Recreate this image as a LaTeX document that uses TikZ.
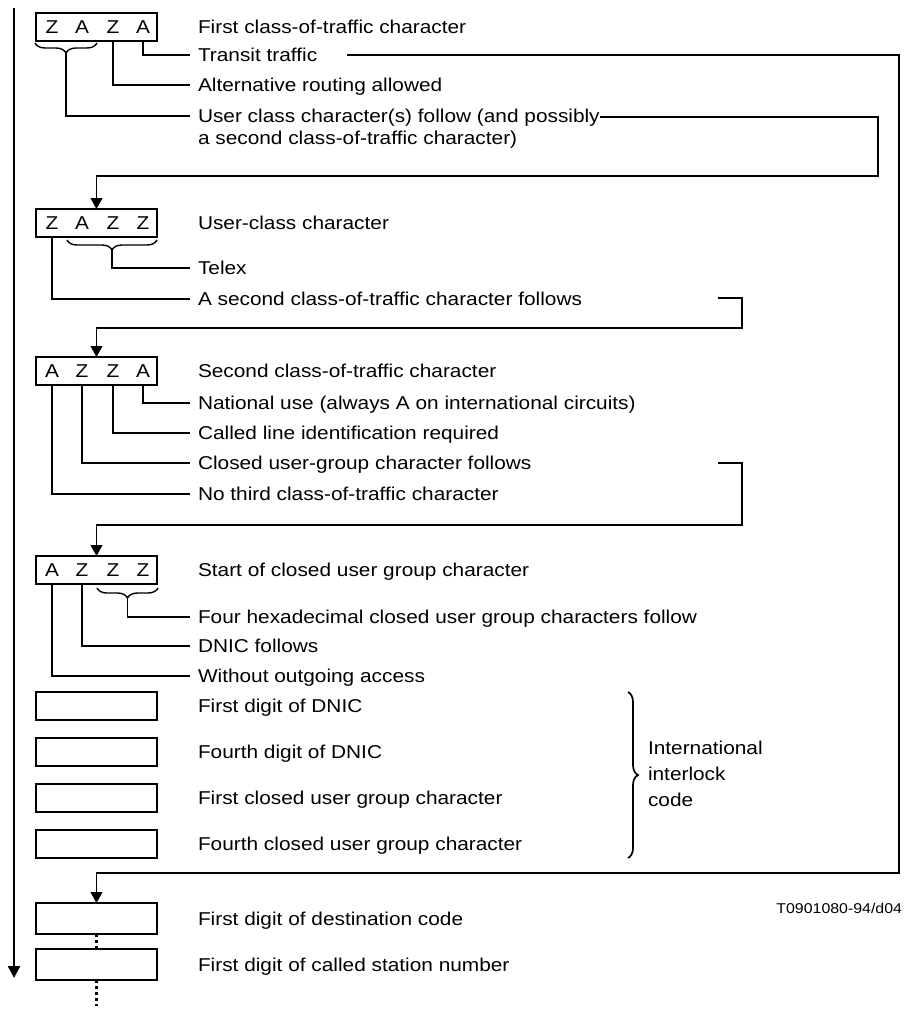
\documentclass[tikz,border=0pt]{standalone}
\usepackage{fontspec}
\setmainfont{Liberation Sans}[FakeStretch=1.12]
\usetikzlibrary{arrows.meta,decorations.pathreplacing}
\begin{document}
\begin{tikzpicture}[x=1pt,y=-1pt,
  every node/.style={font=\fontsize{18.6}{22}\selectfont, inner sep=0pt, outer sep=0pt},
  cbox/.style={draw, line width=1.1pt, minimum width=121pt, minimum height=28pt, anchor=north west},
  tbox/.style={cbox, minimum height=31pt},
  lbl/.style={anchor=west, text height=13.3pt, text depth=0pt},
  ch/.style={anchor=center, text height=13.3pt, text depth=0pt},
  lead/.style={line width=1.1pt},
  flow/.style={line width=1.1pt, -{Triangle[length=11pt,width=12pt]}},
  mainflow/.style={line width=2.4pt, -{Triangle[length=12pt,width=12pt]}},
  br/.style={line width=1.4pt, decorate, decoration={brace, amplitude=10pt}},
  bigbr/.style={line width=1.7pt, decorate, decoration={brace, amplitude=10pt}},
  dots/.style={line width=2.2pt, dash pattern=on 3pt off 3pt}
]
\useasboundingbox (0,0) rectangle (903,1009);

% main time arrow
\coordinate (mtop) at (14,8);
\coordinate (mbot) at (14,978);
\draw[mainflow] (mtop) -- (mbot);

% ---------- Block 1 ----------
\node[cbox] (b1) at (36,13) {};
\node[ch] (b1a) at (52,27) {Z};
\node[ch] (b1b) at (82,27) {A};
\node[ch] (b1c) at (113,27) {Z};
\node[ch] (b1d) at (143,27) {A};
\node[lbl] (t1) at (198,27) {First class-of-traffic character};
\node[lbl] (t1a) at (198,55) {Transit traffic};
\node[lbl] (t1b) at (198,85) {Alternative routing allowed};
\node[lbl] (t1c) at (198,116) {User class character(s) follow (and possibly};
\node[lbl] (t1d) at (198,138) {a second class-of-traffic character)};
\draw[br] (97,43) -- (35,43);
\coordinate (br1) at (66,53);
\draw[lead] (b1d |- b1.south) |- ([xshift=-8pt]t1a.west);
\draw[lead] (b1c |- b1.south) |- ([xshift=-8pt]t1b.west);
\draw[lead] (br1) |- ([xshift=-8pt]t1c.west);

% transit traffic -> destination code
\coordinate (trs) at (347,55);
\coordinate (trc) at (899,873);
% user class follows -> block 2
\coordinate (ucs) at (600,117);
\coordinate (ucc) at (878,176);

% ---------- Block 2 ----------
\node[cbox] (b2) at (36,209) {};
\node[ch] (b2a) at (52,223) {Z};
\node[ch] (b2b) at (82,223) {A};
\node[ch] (b2c) at (113,223) {Z};
\node[ch] (b2d) at (143,223) {Z};
\node[lbl] (t2) at (198,223) {User-class character};
\node[lbl] (t2a) at (198,268) {Telex};
\node[lbl] (t2b) at (198,299) {A second class-of-traffic character follows};
\draw[br] (157,240) -- (67,240);
\coordinate (br2) at (112,250);
\draw[lead] (br2) |- ([xshift=-8pt]t2a.west);
\draw[lead] (b2a |- b2.south) |- ([xshift=-8pt]t2b.west);
\coordinate (s2s) at (718,298);
\coordinate (s2c) at (742,328);

% ---------- Block 3 ----------
\node[cbox] (b3) at (36,357) {};
\node[ch] (b3a) at (52,371) {A};
\node[ch] (b3b) at (82,371) {Z};
\node[ch] (b3c) at (113,371) {Z};
\node[ch] (b3d) at (143,371) {A};
\node[lbl] (t3) at (198,371) {Second class-of-traffic character};
\node[lbl] (t3a) at (198,403) {National use (always A on international circuits)};
\node[lbl] (t3b) at (198,433) {Called line identification required};
\node[lbl] (t3c) at (198,463) {Closed user-group character follows};
\node[lbl] (t3d) at (198,494) {No third class-of-traffic character};
\draw[lead] (b3d |- b3.south) |- ([xshift=-8pt]t3a.west);
\draw[lead] (b3c |- b3.south) |- ([xshift=-8pt]t3b.west);
\draw[lead] (b3b |- b3.south) |- ([xshift=-8pt]t3c.west);
\draw[lead] (b3a |- b3.south) |- ([xshift=-8pt]t3d.west);
\coordinate (s3s) at (718,463);
\coordinate (s3c) at (742,525);

% ---------- Block 4 ----------
\node[cbox] (b4) at (36,556) {};
\node[ch] (b4a) at (52,570) {A};
\node[ch] (b4b) at (82,570) {Z};
\node[ch] (b4c) at (113,570) {Z};
\node[ch] (b4d) at (143,570) {Z};
\node[lbl] (t4) at (198,570) {Start of closed user group character};
\node[lbl] (t4a) at (198,617) {Four hexadecimal closed user group characters follow};
\node[lbl] (t4b) at (198,646) {DNIC follows};
\node[lbl] (t4c) at (198,676) {Without outgoing access};
\draw[br] (158,588) -- (97,588);
\coordinate (br4) at (127.5,598);
\draw[lead] (br4) |- ([xshift=-8pt]t4a.west);
\draw[lead] (b4b |- b4.south) |- ([xshift=-8pt]t4b.west);
\draw[lead] (b4a |- b4.south) |- ([xshift=-8pt]t4c.west);

% ---------- Interlock code ----------
\node[cbox] (b5) at (36,692) {};
\node[cbox] (b6) at (36,738) {};
\node[cbox] (b7) at (36,784) {};
\node[cbox] (b8) at (36,830) {};
\node[lbl] (t5) at (198,706) {First digit of DNIC};
\node[lbl] (t6) at (198,752) {Fourth digit of DNIC};
\node[lbl] (t7) at (198,798) {First closed user group character};
\node[lbl] (t8) at (198,844) {Fourth closed user group character};
\draw[bigbr] (628,692) -- (628,858);
\node[lbl] (ic1) at (648,748) {International};
\node[lbl] (ic2) at (648,774) {interlock};
\node[lbl] (ic3) at (648,800) {code};

% ---------- Destination ----------
\node[tbox] (b9) at (36,903) {};
\node[tbox] (b10) at (36,949) {};
\node[lbl] (t9) at (198,918.5) {First digit of destination code};
\node[lbl] (t10) at (198,964.5) {First digit of called station number};
\coordinate (dend) at (96.5,1006);
\draw[dots] (b9.south) -- (b10.north);
\draw[dots] (b10.south) -- (dend);

\node[anchor=east, font=\fontsize{14.2}{16}\selectfont, text height=10.2pt, text depth=0pt] (ref) at (902,908) {T0901080-94/d04};

% ---------- flow connectors ----------
\draw[flow] (trs) -| (trc) -| (b9.north);
\draw[flow] (ucs) -| (ucc) -| (b2.north);
\draw[flow] (s2s) -| (s2c) -| (b3.north);
\draw[flow] (s3s) -| (s3c) -| (b4.north);
\end{tikzpicture}
\end{document}
